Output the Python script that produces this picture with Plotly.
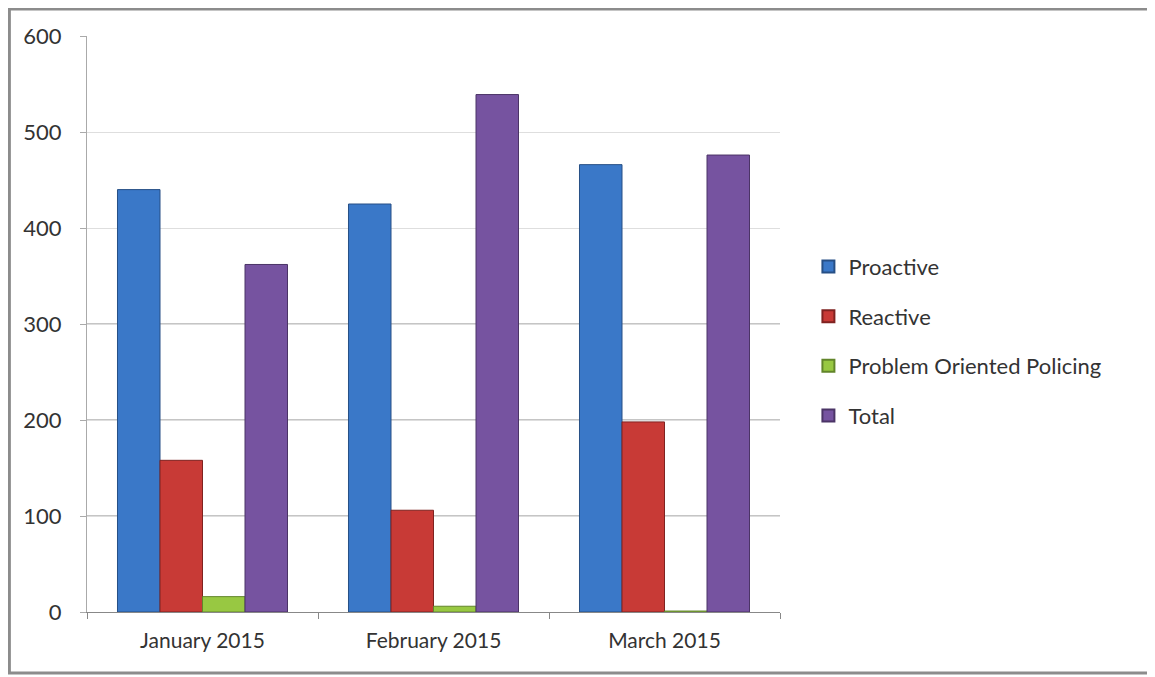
import plotly.graph_objects as go

categories = ["January 2015", "February 2015", "March 2015"]
proactive = [440, 425, 466]
reactive = [158, 106, 198]
pop = [16, 6, 1]
total = [362, 539, 476]
series_names = ["Proactive", "Reactive", "Problem Oriented Policing", "Total"]
y_ticks = [0, 100, 200, 300, 400, 500, 600]

colors = ["#3a78c8", "#c83a36", "#98c842", "#7653a0"]
outlines = ["#264f85", "#7f2220", "#62852a", "#4b3466"]

fig = go.Figure()
for i, (name, vals) in enumerate(zip(series_names, [proactive, reactive, pop, total])):
    fig.add_trace(go.Bar(
        x=categories, y=vals, name=name, legendgroup=name,
        marker=dict(color=colors[i], line=dict(color=outlines[i], width=1)),
    ))

# darker gridlines (as seen in the reference) for lower values
for v in [100, 200, 300]:
    fig.add_shape(type="line", xref="paper", yref="y", x0=0, x1=1, y0=v, y1=v,
                  line=dict(color="#8a8a8a", width=1), layer="below")

# outer frame
fig.add_shape(type="rect", xref="paper", yref="paper",
              x0=-0.112, x1=1.538, y0=-0.106, y1=1.047,
              line=dict(color="#8c8c8c", width=3))

font = "Lato"
fig.update_layout(
    width=1147, height=669,
    margin=dict(l=79, r=375, t=28, b=65),
    paper_bgcolor="white", plot_bgcolor="white",
    barmode="group", bargap=0.264, bargroupgap=0,
    font=dict(family=font, size=22, color="#333333"),
    legend=dict(x=1.041, y=0.47, xanchor="left", yanchor="middle",
                font=dict(size=22, color="#333333"),
                tracegroupgap=18, itemsizing="constant"),
    showlegend=True,
)
fig.update_xaxes(
    showline=True, linecolor="#888888", linewidth=1,
    ticks="outside", tickson="boundaries", ticklen=6, tickcolor="#888888",
    tickfont=dict(size=21), showgrid=False, ticklabelstandoff=10,
)
fig.update_yaxes(
    range=[0, 600], tickvals=y_ticks, showline=True, linecolor="#aaaaaa",
    ticks="outside", ticklen=6, tickcolor="#aaaaaa",
    gridcolor="#dedede", zeroline=False, tickfont=dict(size=22),
    ticklabelstandoff=14,
)
fig.write_html("out.html")
